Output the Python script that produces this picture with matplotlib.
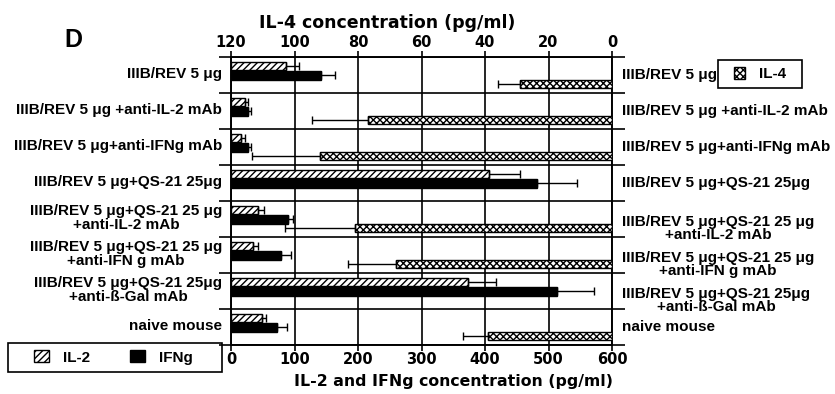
import numpy as np
import matplotlib
matplotlib.use("Agg")
import matplotlib.pyplot as plt
from matplotlib.patches import Patch, Rectangle
from matplotlib.transforms import blended_transform_factory

plt.rcParams['font.family'] = ['Liberation Sans', 'DejaVu Sans']
plt.rcParams['font.weight'] = 'bold'
plt.rcParams['axes.labelweight'] = 'bold'
plt.rcParams['hatch.linewidth'] = 1.0

# groups, top to bottom
left_labels = ["IIIB/REV 5 μg",
               "IIIB/REV 5 μg +anti-IL-2 mAb",
               "IIIB/REV 5 μg+anti-IFNg mAb",
               "IIIB/REV 5 μg+QS-21 25μg",
               "IIIB/REV 5 μg+QS-21 25 μg\n+anti-IL-2 mAb",
               "IIIB/REV 5 μg+QS-21 25 μg\n+anti-IFN g mAb",
               "IIIB/REV 5 μg+QS-21 25μg\n+anti-ß-Gal mAb",
               "naive mouse"]
right_labels = left_labels

il2 = [87, 22, 15, 406, 43, 34, 373, 49]
il2_err = [20, 5, 7, 49, 9, 9, 44, 6]
ifng = [141, 27, 27, 482, 89, 79, 514, 72]
ifng_err = [23, 5, 4, 63, 9, 15, 58, 16]
il4 = [29, 77, 92, 0, 81, 68, 0, 39]
il4_err = [7, 17.5, 21.5, 0, 22, 15, 0, 8]

y = np.arange(len(left_labels))

fig = plt.figure(figsize=(8.35, 3.94), dpi=100)
ax = fig.add_axes([231/835, 1-345/394, 381/835, 288/394])
ax2 = ax.twiny()

ekw = dict(ecolor='black', elinewidth=1, capsize=3, capthick=1)
ax.barh(y - 0.26, il2, height=0.22, color='white', edgecolor='black',
        hatch='/////', linewidth=1, zorder=3)
ax.errorbar(il2, y - 0.26, xerr=[np.zeros(8), il2_err], fmt='none', zorder=4, **ekw)
ax.barh(y, ifng, height=0.25, color='black', edgecolor='black', zorder=3)
ax.errorbar(ifng, y, xerr=[np.zeros(8), ifng_err], fmt='none', zorder=4, **ekw)

il4 = np.array(il4)
il4_err = np.array(il4_err)
m = il4 > 0
ax2.barh(y[m] + 0.25, il4[m], height=0.22, color='white', edgecolor='black',
         hatch='xxxxx', linewidth=1, zorder=3)
ax2.errorbar(il4[m], y[m] + 0.25, xerr=[np.zeros(m.sum()), il4_err[m]],
             fmt='none', zorder=4, **ekw)

ax.set_xlim(0, 600)
ax2.set_xlim(120, 0)
ax.set_ylim(7.5, -0.5)
ax.set_xticks(np.arange(0, 601, 100))
ax2.set_xticks(np.arange(120, -1, -20))
ax.set_yticks(np.arange(-0.5, 7.6, 1))
ax.set_yticklabels([])
ax.tick_params(axis='y', left=True, right=True, length=9, width=1.2, direction='out')
for a in (ax, ax2):
    a.tick_params(axis='x', length=4, width=1.2, labelsize=10.5, pad=1)
    for t in a.get_xticklabels():
        t.set_family('DejaVu Sans')
    for s in a.spines.values():
        s.set_linewidth(1.2)
ax.grid(True, color='black', linewidth=1.2, zorder=0)

ax.set_xlabel("IL-2 and IFNg concentration (pg/ml)", fontsize=11.3,
              family='DejaVu Sans')
ax.xaxis.set_label_coords((453-231)/381, -29/288)
ax2.set_xlabel("IL-4 concentration (pg/ml)", fontsize=12.5,
               family='DejaVu Sans')
ax2.xaxis.set_label_coords((387-231)/381, 1+29/288)

trl = blended_transform_factory(fig.transFigure, ax.transData)
for i, lab in enumerate(left_labels):
    ax.text(222/835, i - 0.03, lab, transform=trl, ha='right', va='center',
            multialignment='center', fontsize=11, linespacing=0.95)
for i, lab in enumerate(right_labels):
    off = 0.26 if '\n' in lab else 0.0
    ax.text(622/835, i + off, lab, transform=trl, ha='left', va='center',
            multialignment='center', fontsize=11, linespacing=0.95)

fig.text(73/835, 1-40/394, "D", fontsize=18, ha='center', va='center')

# legend boxes
fig.patches.append(Rectangle((8/835, 1-372/394), 214/835, 29/394, fill=False,
                             lw=1.2, edgecolor='black', transform=fig.transFigure))
fig.patches.append(Rectangle((718/835, 1-88/394), 84/835, 28/394, fill=False,
                             lw=1.2, edgecolor='black', transform=fig.transFigure))

h1 = [Patch(facecolor='white', edgecolor='black', hatch='/////', label='IL-2'),
      Patch(facecolor='black', edgecolor='black', label='IFNg')]
fig.legend(handles=h1, loc='center', bbox_to_anchor=(113/835, 1-357.5/394),
           ncol=2, frameon=False, fontsize=11, handlelength=1.0,
           handleheight=0.8, columnspacing=2.6, handletextpad=0.9,
           borderpad=0, borderaxespad=0)
h2 = [Patch(facecolor='white', edgecolor='black', hatch='xxxxx', label='IL-4')]
fig.legend(handles=h2, loc='center', bbox_to_anchor=(760/835, 1-74/394),
           frameon=False, fontsize=11, handlelength=0.7, handleheight=0.8,
           handletextpad=0.9, borderpad=0, borderaxespad=0)

fig.savefig("out.png", dpi=100)
